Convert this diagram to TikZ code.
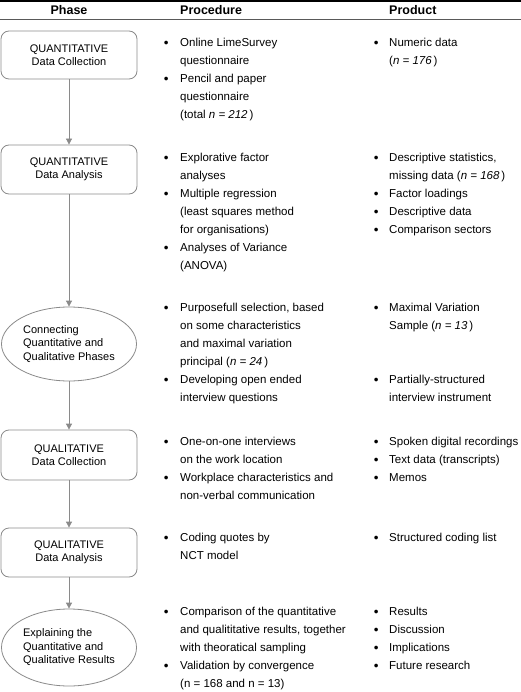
\documentclass[tikz,border=0pt]{standalone}
\usepackage{fontspec}
\setmainfont{Liberation Sans}
\usetikzlibrary{arrows.meta,shapes.geometric}
\definecolor{edge}{HTML}{8A8A8A}
\newcommand\bulglyph{\raisebox{-0.7pt}{\fontsize{13.5}{13.5}\selectfont •}}
\newcommand\pb{\makebox[16pt][l]{\hspace*{-0.4pt}\bulglyph}}
\newcommand\pc{\hspace*{16pt}}
\newcommand\qb{\makebox[15pt][l]{\hspace*{-0.4pt}\bulglyph}}
\newcommand\qc{\hspace*{15pt}}
\newcommand\cellrows[1]{\begin{tabular}[t]{@{}l@{}}#1\end{tabular}}
\begin{document}
\begin{tikzpicture}[x=1pt,y=-1pt,
  phasebox/.style={draw=edge, line width=0.8pt, rounded corners=8pt,
    minimum width=136pt, minimum height=48pt, align=center, inner sep=0pt,
    font=\fontsize{11}{13.5}\selectfont},
  phaseoval/.style={draw=edge, line width=0.8pt, ellipse,
    minimum width=135pt, minimum height=75pt, align=left, inner sep=0pt,
    font=\fontsize{11}{13.5}\selectfont},
  flow/.style={draw=edge, line width=0.8pt, -{Triangle[length=6pt,width=6pt]}},
  cell/.style={anchor=base west, inner sep=0pt, font=\fontsize{11.5}{18}\selectfont},
  head/.style={inner sep=0pt, font=\fontsize{12.5}{15}\selectfont\bfseries}]
\useasboundingbox (0,0) rectangle (521,692);
% rules
\draw[line width=2.5pt] (0,1.25) -- (521,1.25);
\draw[line width=0.8pt, black!65] (0,19.5) -- (521,19.5);
% header
\node[head, anchor=base] (hphase) at (69,15) {Phase};
\node[head, anchor=base west] (hproc) at (180,15) {Procedure};
\node[head, anchor=base west] (hprod) at (389,15) {Product};
% phases
\node[phasebox] (p1) at (69,55) {QUANTITATIVE\\Data Collection};
\node[phasebox, minimum height=49pt] (p2) at (69,169.5) {QUANTITATIVE\\Data Analysis};
\node[phaseoval, minimum height=74pt] (p3) at (69,344) {Connecting\\Quantitative and\\Qualitative Phases};
\node[phasebox, minimum height=50pt] (p4) at (69,455) {QUALITATIVE\\Data Collection};
\node[phasebox, minimum height=49pt] (p5) at (69,552.5) {QUALITATIVE\\Data Analysis};
\node[phaseoval, minimum height=77pt] (p6) at (69,647.5) {Explaining the\\Quantitative and\\Qualitative Results};
\draw[flow] (p1) -- (p2);
\draw[flow] (p2) -- (p3);
\draw[flow] (p3) -- (p4);
\draw[flow] (p4) -- (p5);
\draw[flow] (p5) -- (p6);
% procedure column
\node[cell] (r1a) at (164,46.7) {\cellrows{\pb Online LimeSurvey\\ \pc questionnaire\\ \pb Pencil and paper\\ \pc questionnaire\\ \pc (total \textit{n = 212}\,)}};
\node[cell] (r2a) at (164,161.7) {\cellrows{\pb Explorative factor\\ \pc analyses\\ \pb Multiple regression\\ \pc (least squares method\\ \pc for organisations)\\ \pb Analyses of Variance\\ \pc (ANOVA)}};
\node[cell] (r3a) at (164,311.7) {\cellrows{\pb Purposefull selection, based\\ \pc on some characteristics\\ \pc and maximal variation\\ \pc principal (\textit{n = 24}\,)\\ \pb Developing open ended\\ \pc interview questions}};
\node[cell] (r4a) at (164,445.7) {\cellrows{\pb One-on-one interviews\\ \pc on the work location\\ \pb Workplace characteristics and\\ \pc non-verbal communication}};
\node[cell] (r5a) at (164,541.7) {\cellrows{\pb Coding quotes by\\ \pc NCT model}};
\node[cell] (r6a) at (164,615.7) {\cellrows{\pb Comparison of the quantitative\\ \pc and qualititative results, together\\ \pc with theoratical sampling\\ \pb Validation by convergence\\ \pc (n = 168 and n = 13)}};
% product column
\node[cell] (r1b) at (374,46.7) {\cellrows{\qb Numeric data\\ \qc (\textit{n = 176}\,)}};
\node[cell] (r2b) at (374,161.7) {\cellrows{\qb Descriptive statistics,\\ \qc missing data (\textit{n = 168}\,)\\ \qb Factor loadings\\ \qb Descriptive data\\ \qb Comparison sectors}};
\node[cell] (r3b) at (374,311.7) {\cellrows{\qb Maximal Variation\\ \qc Sample (\textit{n = 13}\,)}};
\node[cell] (r3c) at (374,383.7) {\cellrows{\qb Partially-structured\\ \qc interview instrument}};
\node[cell] (r4b) at (374,445.7) {\cellrows{\qb Spoken digital recordings\\ \qb Text data (transcripts)\\ \qb Memos}};
\node[cell] (r5b) at (374,541.7) {\cellrows{\qb Structured coding list}};
\node[cell] (r6b) at (374,615.7) {\cellrows{\qb Results\\ \qb Discussion\\ \qb Implications\\ \qb Future research}};
\end{tikzpicture}
\end{document}
